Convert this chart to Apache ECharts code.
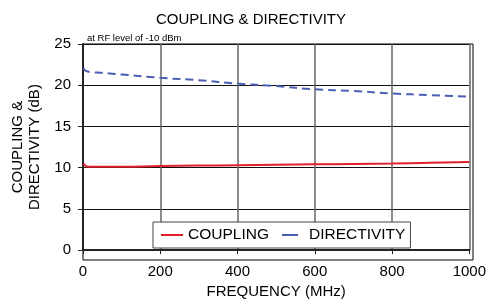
<!DOCTYPE html>
<html>
<head>
<meta charset="utf-8">
<script src="https://cdn.jsdelivr.net/npm/echarts@6/dist/echarts.min.js"></script>
<style>
  html, body { margin: 0; padding: 0; background: #fff; }
  #chart-container { width: 489px; height: 304px; }
</style>
</head>
<body>
<div id="chart-container"></div>
<script>
var freqs = [1, 5, 10, 20, 50, 100, 200, 300, 400, 500, 600, 700, 800, 900, 1000];
var coupling = [10.5, 10.3, 10.15, 10.1, 10.1, 10.1, 10.2, 10.25, 10.3, 10.35, 10.4, 10.45, 10.5, 10.6, 10.7];
var directivity = [22.1, 21.8, 21.7, 21.6, 21.5, 21.3, 20.9, 20.6, 20.2, 19.9, 19.5, 19.3, 19.0, 18.8, 18.6];
var seriesNames = ['COUPLING', 'DIRECTIVITY'];

var pairs = function (ys) {
    return freqs.map(function (f, i) { return [f, ys[i]]; });
};

var font = 'Liberation Sans, Arial, sans-serif';
var myChart = echarts.init(document.getElementById('chart-container'));

var option = {
    animation: false,
    textStyle: { fontFamily: font },
    title: [
        {
            text: 'COUPLING & DIRECTIVITY',
            left: 246, top: 7, textAlign: 'center',
            textStyle: { fontSize: 15, fontWeight: 'normal', color: '#000', fontFamily: font }
        },
        {
            text: 'at RF level of -10 dBm',
            left: 82, top: 28,
            textStyle: { fontSize: 9.5, fontWeight: 'normal', color: '#000', fontFamily: font }
        }
    ],
    grid: { left: 83, right: 16, top: 44, bottom: 44 },
    legend: {
        data: [
            { name: seriesNames[0], itemStyle: { opacity: 0 } },
            { name: seriesNames[1], itemStyle: { opacity: 0 }, lineStyle: { type: [16, 30] } }
        ],
        left: 153, top: 222,
        padding: [5, 5, 5, 7],
        itemGap: 12,
        itemWidth: 22, itemHeight: 10,
        borderColor: '#444', borderWidth: 1,
        backgroundColor: '#fff',
        textStyle: { fontSize: 15.5, color: '#000', fontFamily: font }
    },
    xAxis: {
        type: 'value', min: 0, max: 1000, interval: 200,
        name: 'FREQUENCY (MHz)', nameLocation: 'middle', nameGap: 30,
        nameTextStyle: { fontSize: 15, color: '#000' },
        axisLine: { lineStyle: { color: '#222', width: 2 } },
        axisTick: { show: true, length: 4, lineStyle: { color: '#222' } },
        axisLabel: { fontSize: 15, color: '#000', margin: 14, formatter: function (v) { return String(v); } },
        splitLine: { lineStyle: { color: '#666', width: 1.5 } }
    },
    yAxis: {
        type: 'value', min: 0, max: 25, interval: 5,
        name: 'COUPLING &\nDIRECTIVITY (dB)', nameLocation: 'middle', nameGap: 33,
        nameRotate: 90,
        nameTextStyle: { fontSize: 15, color: '#000', lineHeight: 17 },
        axisLine: { lineStyle: { color: '#222', width: 2 } },
        axisTick: { show: true, length: 5, lineStyle: { color: '#222' } },
        axisLabel: { fontSize: 15, color: '#000', margin: 12 },
        splitLine: { lineStyle: { color: '#111', width: 1 } }
    },
    series: [
        {
            name: seriesNames[0], type: 'line', data: pairs(coupling),
            showSymbol: false, symbol: 'none', smooth: true,
            lineStyle: { color: '#e0202a', width: 2 },
            itemStyle: { color: '#e0202a' }
        },
        {
            name: seriesNames[1], type: 'line', data: pairs(directivity),
            showSymbol: false, symbol: 'none', smooth: true,
            lineStyle: { color: '#4a5fb4', width: 2, type: [8, 5] },
            itemStyle: { color: '#4a5fb4' }
        }
    ],
    graphic: [
        {
            type: 'rect', silent: true,
            shape: { x: 83, y: 44, width: 390, height: 216 },
            style: { fill: 'none', stroke: '#000', lineWidth: 1 }
        }
    ]
};
myChart.setOption(option);
</script>
</body>
</html>
